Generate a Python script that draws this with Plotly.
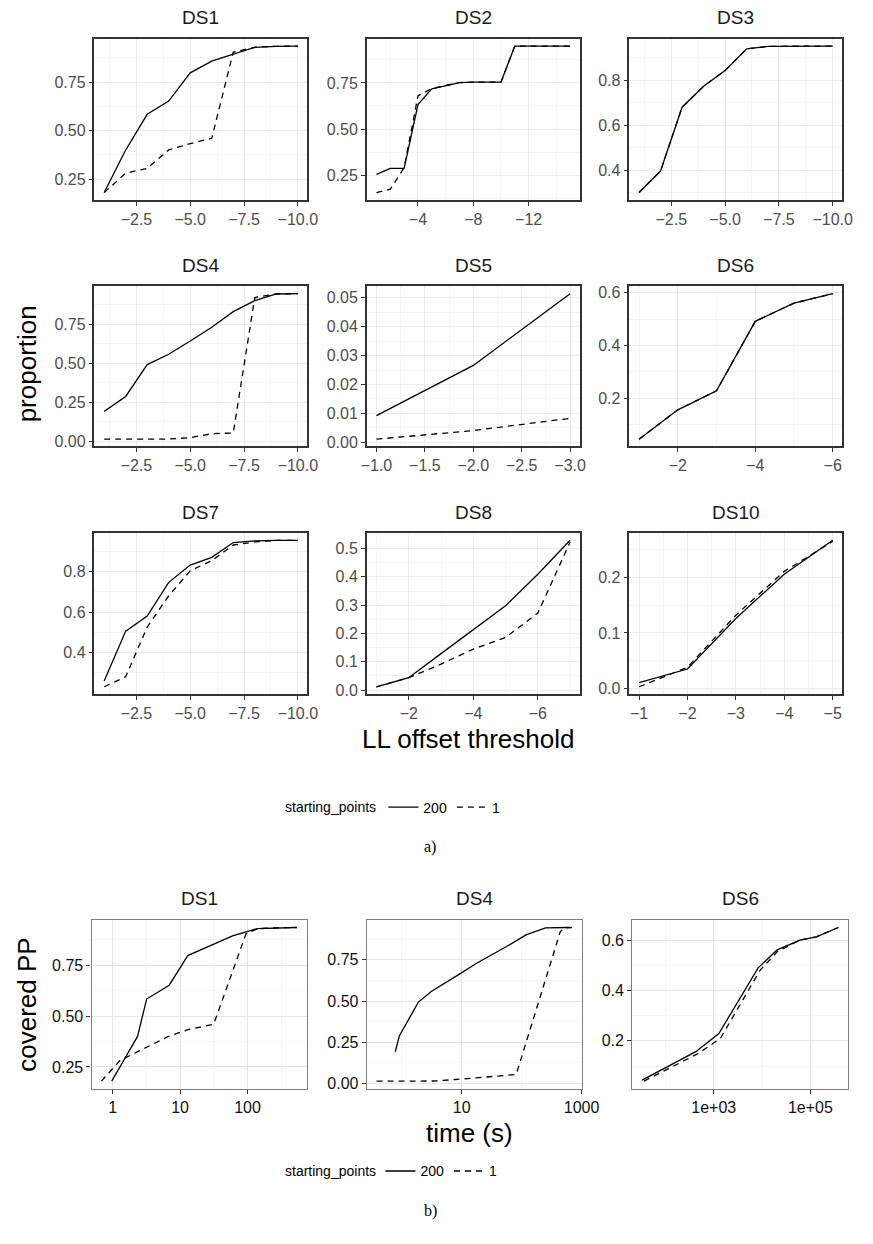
import math
import plotly.graph_objects as go

W, H = 873, 1244

# ---------------- data: panel a) (LL offset threshold) ----------------
thr_10 = [-1, -2, -3, -4, -5, -6, -7, -8, -9, -10]
thr_15 = [-1, -2, -3, -4, -5, -6, -7, -8, -9, -10, -11, -12, -13, -14, -15]
thr_3 = [-1, -2, -3]
thr_6 = [-1, -2, -3, -4, -5, -6]
thr_7 = [-1, -2, -3, -4, -5, -6, -7]
thr_5 = [-1, -2, -3, -4, -5]

ds1_sp200 = [0.18, 0.40, 0.584, 0.652, 0.798, 0.858, 0.895, 0.93, 0.935, 0.936]
ds1_sp1 = [0.18, 0.28, 0.305, 0.40, 0.433, 0.46, 0.905, 0.93, 0.935, 0.936]
ds2_sp200 = [0.254, 0.286, 0.286, 0.633, 0.718, 0.735, 0.752, 0.754, 0.754, 0.754, 0.95, 0.95, 0.95, 0.95, 0.95]
ds2_sp1 = [0.155, 0.173, 0.29, 0.68, 0.72, 0.735, 0.752, 0.754, 0.754, 0.754, 0.95, 0.95, 0.95, 0.95, 0.95]
ds3_sp200 = [0.30, 0.396, 0.68, 0.773, 0.843, 0.94, 0.951, 0.952, 0.952, 0.952]
ds3_sp1 = [0.30, 0.396, 0.68, 0.773, 0.843, 0.94, 0.951, 0.952, 0.952, 0.952]
ds4_sp200 = [0.193, 0.288, 0.492, 0.558, 0.643, 0.73, 0.83, 0.90, 0.943, 0.945]
ds4_sp1 = [0.015, 0.015, 0.015, 0.016, 0.025, 0.05, 0.055, 0.92, 0.943, 0.945]
ds5_sp200 = [0.00925, 0.0266, 0.0514]
ds5_sp1 = [0.0011, 0.0041, 0.0083]
ds6_sp200 = [0.0445, 0.156, 0.228, 0.492, 0.561, 0.597]
ds6_sp1 = [0.0445, 0.156, 0.228, 0.492, 0.561, 0.597]
ds7_sp200 = [0.26, 0.506, 0.58, 0.746, 0.831, 0.869, 0.942, 0.95, 0.953, 0.953]
ds7_sp1 = [0.232, 0.281, 0.526, 0.68, 0.803, 0.853, 0.93, 0.945, 0.953, 0.953]
ds8_sp200 = [0.012, 0.044, 0.129, 0.215, 0.298, 0.409, 0.529]
ds8_sp1 = [0.012, 0.044, 0.092, 0.145, 0.186, 0.272, 0.523]
ds10_sp200 = [0.0103, 0.035, 0.126, 0.206, 0.267]
ds10_sp1 = [0.003, 0.038, 0.132, 0.211, 0.265]

# tick labels
xt_25 = [-2.5, -5.0, -7.5, -10.0]
xl_25 = ["\u22122.5", "\u22125.0", "\u22127.5", "\u221210.0"]
xt_4 = [-4, -8, -12]
xl_4 = ["\u22124", "\u22128", "\u221212"]
xt_05 = [-1.0, -1.5, -2.0, -2.5, -3.0]
xl_05 = ["\u22121.0", "\u22121.5", "\u22122.0", "\u22122.5", "\u22123.0"]
xt_2 = [-2, -4, -6]
xl_2 = ["\u22122", "\u22124", "\u22126"]
xt_1 = [-1, -2, -3, -4, -5]
xl_1 = ["\u22121", "\u22122", "\u22123", "\u22124", "\u22125"]
yt_q = [0.25, 0.50, 0.75]
yl_q = ["0.25", "0.50", "0.75"]
yt_q0 = [0.0, 0.25, 0.50, 0.75]
yl_q0 = ["0.00", "0.25", "0.50", "0.75"]
yt_p2 = [0.4, 0.6, 0.8]
yl_p2 = ["0.4", "0.6", "0.8"]
yt_ds5 = [0.0, 0.01, 0.02, 0.03, 0.04, 0.05]
yl_ds5 = ["0.00", "0.01", "0.02", "0.03", "0.04", "0.05"]
yt_ds6 = [0.2, 0.4, 0.6]
yl_ds6 = ["0.2", "0.4", "0.6"]
yt_ds8 = [0.0, 0.1, 0.2, 0.3, 0.4, 0.5]
yl_ds8 = ["0.0", "0.1", "0.2", "0.3", "0.4", "0.5"]
yt_ds10 = [0.0, 0.1, 0.2]
yl_ds10 = ["0.0", "0.1", "0.2"]

# ---------------- data: panel b) (time) ----------------
b_ds1_t200 = [0.97, 2.34, 3.19, 6.9, 13, 33, 60, 139, 300, 537]
b_ds1_t1 = [0.68, 1.27, 1.78, 6.7, 13, 31.5, 95, 140, 300, 537]
b_ds1_y200 = ds1_sp200
b_ds1_y1 = ds1_sp1
b_ds4_t200 = [0.78, 0.91, 1.88, 3.1, 7.5, 18, 56, 118, 250, 600]
b_ds4_t1 = [0.38, 0.9, 1.8, 3.5, 8, 43, 81, 441, 525, 690]
b_ds4_y200 = ds4_sp200
b_ds4_y1 = ds4_sp1
b_ds6_t200 = [33, 427, 1280, 8300, 20600, 61000, 133000, 380000]
b_ds6_t1 = [36, 480, 1380, 9100, 21000, 61000, 133000, 380000]
b_ds6_y200 = [0.044, 0.157, 0.229, 0.49, 0.561, 0.60, 0.613, 0.65]
b_ds6_y1 = [0.04, 0.15, 0.21, 0.48, 0.555, 0.60, 0.613, 0.65]

bxt_ds1 = [1, 10, 100]
bxl_ds1 = ["1", "10", "100"]
bxt_ds4 = [10, 1000]
bxl_ds4 = ["10", "1000"]
bxt_ds6 = [1000, 100000]
bxl_ds6 = ["1e+03", "1e+05"]

legend_title = "starting_points"

# ---------------- layout geometry (pixels) ----------------
top_cols = [(91, 310), (371, 590), (641, 860)]
top_rows = [(37, 199), (286, 447), (534, 696)]
bot_cols = [(88, 309), (371, 592), (644, 866)]
bot_row = (923, 1093)

FONT = "Liberation Sans, Arial, sans-serif"
SERIF = "Liberation Serif, DejaVu Serif, serif"


def expand(vals, f=0.05):
    lo, hi = min(vals), max(vals)
    d = (hi - lo) * f
    return lo - d, hi + d


def minors(majors):
    step = majors[1] - majors[0]
    return [m - step / 2 for m in majors] + [majors[-1] + step / 2]


fig = go.Figure()
annotations = []
layout_axes = {}

top_panels = [
    ("DS1", thr_10, ds1_sp200, ds1_sp1, xt_25, xl_25, yt_q, yl_q),
    ("DS2", thr_15, ds2_sp200, ds2_sp1, xt_4, xl_4, yt_q, yl_q),
    ("DS3", thr_10, ds3_sp200, ds3_sp1, xt_25, xl_25, yt_p2, yl_p2),
    ("DS4", thr_10, ds4_sp200, ds4_sp1, xt_25, xl_25, yt_q0, yl_q0),
    ("DS5", thr_3, ds5_sp200, ds5_sp1, xt_05, xl_05, yt_ds5, yl_ds5),
    ("DS6", thr_6, ds6_sp200, ds6_sp1, xt_2, xl_2, yt_ds6, yl_ds6),
    ("DS7", thr_10, ds7_sp200, ds7_sp1, xt_25, xl_25, yt_p2, yl_p2),
    ("DS8", thr_7, ds8_sp200, ds8_sp1, xt_2, xl_2, yt_ds8, yl_ds8),
    ("DS10", thr_5, ds10_sp200, ds10_sp1, xt_1, xl_1, yt_ds10, yl_ds10),
]

bot_panels = [
    ("DS1", b_ds1_t200, b_ds1_y200, b_ds1_t1, b_ds1_y1, bxt_ds1, bxl_ds1, yt_q, yl_q),
    ("DS4", b_ds4_t200, b_ds4_y200, b_ds4_t1, b_ds4_y1, bxt_ds4, bxl_ds4, yt_q0, yl_q0),
    ("DS6", b_ds6_t200, b_ds6_y200, b_ds6_t1, b_ds6_y1, bxt_ds6, bxl_ds6, yt_ds6, yl_ds6),
]

LW = 1.3
DASH = "6px,5px"
TICK_SIZE = 16


def add_title(text, l, r, top):
    annotations.append(dict(text=text, x=(l + r) / 2 / W, y=1 - (top - 21) / H,
                            xref="paper", yref="paper", showarrow=False,
                            xanchor="center", yanchor="middle",
                            font=dict(family=FONT, size=19, color="#1A1A1A")))


n = 0
for i, (name, xs, s200, s1, xt, xl, yt, yl) in enumerate(top_panels):
    n += 1
    c, r = i % 3, i // 3
    l, rr = top_cols[c]
    t, b = top_rows[r]
    sfx = "" if n == 1 else str(n)
    first = (i == 0)
    fig.add_trace(go.Scatter(x=xs, y=s200, mode="lines", name="200",
                             line=dict(color="black", width=LW),
                             xaxis="x" + sfx, yaxis="y" + sfx,
                             legend="legend", showlegend=first, legendgroup="a200"))
    fig.add_trace(go.Scatter(x=xs, y=s1, mode="lines", name="1",
                             line=dict(color="black", width=LW, dash=DASH),
                             xaxis="x" + sfx, yaxis="y" + sfx,
                             legend="legend", showlegend=first, legendgroup="a1"))
    xlo, xhi = expand(xs)
    ylo, yhi = expand(s200 + s1)
    common = dict(showline=True, mirror=True, linecolor="#333333", linewidth=1.5,
                  showgrid=True, gridcolor="#EBEBEB", gridwidth=1.1, zeroline=False,
                  ticks="outside", ticklen=4, tickwidth=1.2, tickcolor="#333333",
                  tickfont=dict(family=FONT, size=TICK_SIZE, color="#4D4D4D"))
    layout_axes["xaxis" + sfx] = dict(
        domain=[l / W, rr / W], anchor="y" + sfx, range=[xhi, xlo],
        tickmode="array", tickvals=xt, ticktext=xl,
        minor=dict(tickvals=minors(xt), showgrid=True, gridcolor="#F4F4F4", gridwidth=0.6, ticks=""),
        **common)
    layout_axes["yaxis" + sfx] = dict(
        domain=[1 - b / H, 1 - t / H], anchor="x" + sfx, range=[ylo, yhi],
        tickmode="array", tickvals=yt, ticktext=yl,
        minor=dict(tickvals=minors(yt), showgrid=True, gridcolor="#F4F4F4", gridwidth=0.6, ticks=""),
        **common)
    add_title(name, l, rr, t)

for i, (name, t200, y200, t1, y1, xt, xl, yt, yl) in enumerate(bot_panels):
    n += 1
    l, rr = bot_cols[i]
    t, b = bot_row
    sfx = str(n)
    first = (i == 0)
    fig.add_trace(go.Scatter(x=t200, y=y200, mode="lines", name="200",
                             line=dict(color="black", width=LW),
                             xaxis="x" + sfx, yaxis="y" + sfx,
                             legend="legend2", showlegend=first, legendgroup="b200"))
    fig.add_trace(go.Scatter(x=t1, y=y1, mode="lines", name="1",
                             line=dict(color="black", width=LW, dash=DASH),
                             xaxis="x" + sfx, yaxis="y" + sfx,
                             legend="legend2", showlegend=first, legendgroup="b1"))
    lx = [math.log10(v) for v in t200 + t1]
    xlo, xhi = expand(lx)
    ylo, yhi = expand(y200 + y1)
    lmaj = [math.log10(v) for v in xt]
    if len(lmaj) > 1:
        lmin = minors(lmaj)
    else:
        lmin = [lmaj[0] - 0.5, lmaj[0] + 0.5]
    common = dict(showline=True, mirror=True, linecolor="#7F7F7F", linewidth=1.3,
                  showgrid=True, gridcolor="#E5E5E5", gridwidth=1.1, zeroline=False,
                  ticks="outside", ticklen=4, tickwidth=1.2, tickcolor="#333333",
                  tickfont=dict(family=FONT, size=TICK_SIZE, color="#111111"))
    layout_axes["xaxis" + sfx] = dict(
        type="log", domain=[l / W, rr / W], anchor="y" + sfx, range=[xlo, xhi],
        tickmode="array", tickvals=xt, ticktext=xl,
        minor=dict(tickvals=[10 ** v for v in lmin], showgrid=True, gridcolor="#F5F5F5", gridwidth=0.6, ticks=""),
        **common)
    layout_axes["yaxis" + sfx] = dict(
        domain=[1 - b / H, 1 - t / H], anchor="x" + sfx, range=[ylo, yhi],
        tickmode="array", tickvals=yt, ticktext=yl,
        minor=dict(tickvals=minors(yt), showgrid=True, gridcolor="#F5F5F5", gridwidth=0.6, ticks=""),
        **common)
    add_title(name, l, rr, t)


def txt(text, x, y, size, angle=0, family=FONT, color="black", anchor="center"):
    annotations.append(dict(text=text, x=x / W, y=1 - y / H, xref="paper", yref="paper",
                            showarrow=False, xanchor=anchor, yanchor="middle",
                            textangle=angle, font=dict(family=family, size=size, color=color)))


txt("proportion", 22, 364, 26, angle=-90)
txt("LL offset threshold", 475, 741, 26)
txt("a)", 436, 850, 16, family=SERIF)
txt("covered PP", 22, 1008, 26, angle=-90)
txt("time (s)", 477, 1137, 26)
txt("b)", 436, 1216, 16, family=SERIF)

# legend titles as text, legends next to them
txt(legend_title, 383, 810, 14, anchor="right")
txt(legend_title, 383, 1176, 14, anchor="right")

leg_common = dict(orientation="h", xanchor="left", yanchor="middle",
                  font=dict(family=FONT, size=14, color="black"),
                  bgcolor="rgba(0,0,0,0)", itemwidth=30, tracegroupgap=0,
                  borderwidth=0)

fig.update_layout(
    width=W, height=H,
    margin=dict(l=0, r=0, t=0, b=0),
    paper_bgcolor="white", plot_bgcolor="white",
    annotations=annotations,
    legend=dict(x=388 / W, y=1 - 810 / H, **leg_common),
    legend2=dict(x=385 / W, y=1 - 1176 / H, **leg_common),
    **layout_axes,
)

fig.write_html("out.html")
